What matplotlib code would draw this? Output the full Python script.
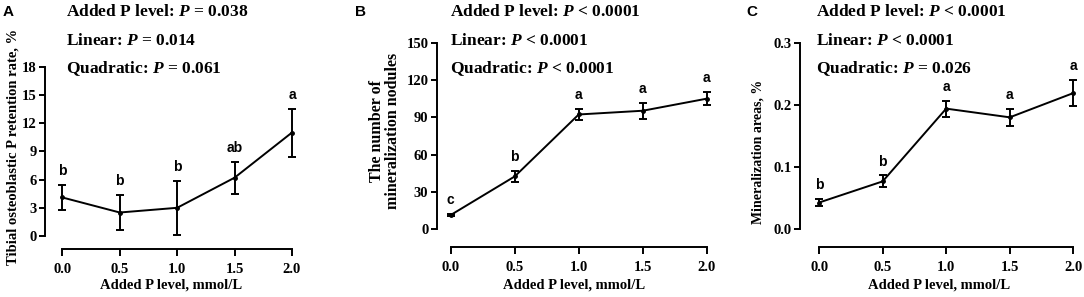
import matplotlib.pyplot as plt

plt.rcParams['font.family'] = ['Liberation Serif', 'DejaVu Serif']
plt.rcParams['font.weight'] = 'bold'
plt.rcParams['mathtext.fontset'] = 'custom'
plt.rcParams['mathtext.it'] = 'Liberation Serif:italic:bold'
plt.rcParams['mathtext.rm'] = 'Liberation Serif:bold'

# data
levels = [0.0, 0.5, 1.0, 1.5, 2.0]

retention = [4.1, 2.5, 3.0, 6.2, 11.0]
retention_err = [1.35, 1.9, 2.9, 1.7, 2.55]
retention_letters = ['b', 'b', 'b', 'ab', 'a']
retention_stats = ['Added P level: $P$ = 0.038', 'Linear: $P$ = 0.014', 'Quadratic: $P$ = 0.061']

nodules = [11.5, 42.5, 92.3, 95.3, 105.0]
nodules_err = [1.0, 4.3, 4.8, 6.5, 5.1]
nodules_letters = ['c', 'b', 'a', 'a', 'a']
nodules_stats = ['Added P level: $P$ < 0.0001', 'Linear: $P$ < 0.0001', 'Quadratic: $P$ < 0.0001']

areas = [0.043, 0.077, 0.194, 0.180, 0.219]
areas_err = [0.005, 0.0095, 0.013, 0.0135, 0.021]
areas_letters = ['b', 'b', 'a', 'a', 'a']
areas_stats = ['Added P level: $P$ < 0.0001', 'Linear: $P$ < 0.0001', 'Quadratic: $P$ = 0.026']

W, H = 1084, 297
fig = plt.figure(figsize=(W / 100, H / 100), dpi=100)


def px_axes(left, right, top, bottom):
    return fig.add_axes([left / W, (H - bottom) / H, (right - left) / W, (bottom - top) / H])


def panel(rect, xlim, ylim, yticks, vals, errs, letters, stats, ylabel,
          letter, letter_x, ylabel_xy, ylabel_size, stats_x):
    ax = px_axes(*rect)
    ax.errorbar(levels, vals, yerr=errs, color='black', lw=1.4, marker='o', ms=2.5,
                capsize=3, capthick=1.4, elinewidth=1.4, clip_on=False)
    for x, v, e, t in zip(levels, vals, errs, letters):
        ax.annotate(t, (x, v + e), xytext=(0, 5), textcoords='offset points',
                    ha='center', va='bottom', fontsize=10, fontweight='bold',
                    family='Liberation Sans')
    ax.set_xlim(*xlim)
    ax.set_ylim(*ylim)
    ax.set_yticks(yticks)
    ax.set_xticks(levels)
    ax.set_xticklabels([f'{v:.1f}' for v in levels])
    ax.spines['top'].set_visible(False)
    ax.spines['right'].set_visible(False)
    ax.spines['left'].set_bounds(yticks[0], yticks[-1])
    ax.spines['bottom'].set_bounds(levels[0], levels[-1])
    for s in ('left', 'bottom'):
        ax.spines[s].set_linewidth(1.4)
    ax.tick_params(axis='y', length=4, width=1.4, pad=2, labelsize=10.5)
    ax.tick_params(axis='x', length=5, width=1.4, pad=5, labelsize=10.5)
    ax.patch.set_alpha(0)

    fig.text((rect[0] + rect[1]) / 2 / W, 1 - 285 / H, 'Added P level, mmol/L',
             ha='center', va='center', fontsize=10.5)
    fig.text(ylabel_xy[0] / W, 1 - ylabel_xy[1] / H, ylabel, rotation=90,
             ha='center', va='center', fontsize=ylabel_size, linespacing=0.95)
    for s, y in zip(stats, [12, 41, 69]):
        fig.text(stats_x / W, 1 - y / H, s, ha='left', va='center', fontsize=12.5)
    fig.text(letter_x / W, 1 - 12 / H, letter, ha='left', va='center', fontsize=11,
             fontweight='bold', family='Liberation Sans')
    return ax


axA = panel((45.1, 297.7, 66.7, 249), (-0.15, 2.05), (-1.38, 18), [0, 3, 6, 9, 12, 15, 18],
            retention, retention_err, retention_letters, retention_stats,
            'Tibial osteoblastic P retention rate, %', 'A', 3, (13, 147), 10.5, 66)
axB = panel((436.7, 711.8, 42.7, 246.7), (-0.11, 2.04), (-14, 150), [0, 30, 60, 90, 120, 150],
            nodules, nodules_err, nodules_letters, nodules_stats,
            'The number of\nmineralization nodules', 'B', 355, (385, 131), 11.5, 450)
axC = panel((800, 1078.4, 42.7, 246.7), (-0.15, 2.04), (-0.028, 0.3), [0.0, 0.1, 0.2, 0.3],
            areas, areas_err, areas_letters, areas_stats,
            'Mineralization areas, %', 'C', 746, (758, 152), 10, 816)
axC.set_yticklabels(['0.0', '0.1', '0.2', '0.3'])

fig.savefig('out.png', dpi=100)
